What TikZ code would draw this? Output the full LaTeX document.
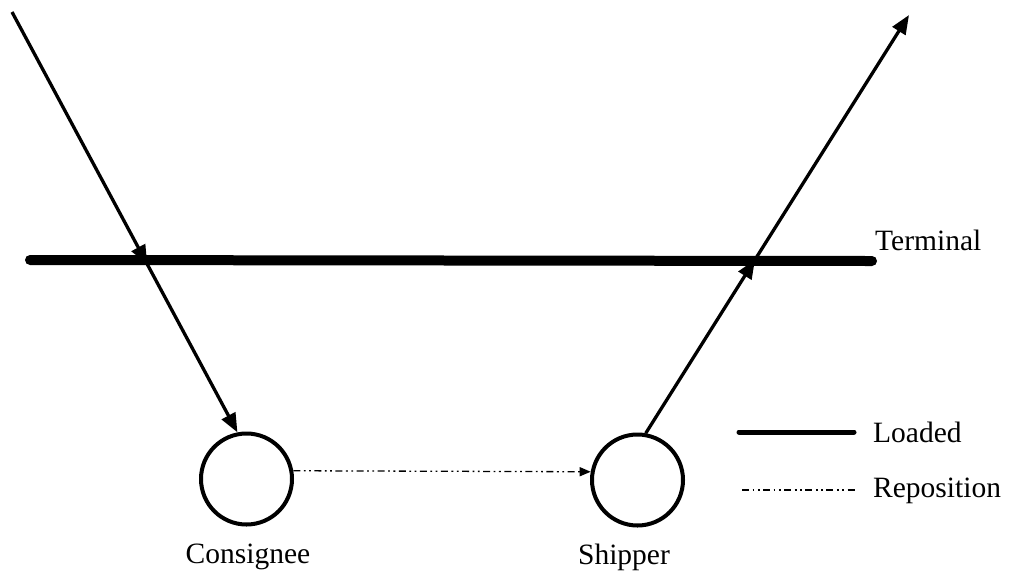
\documentclass[tikz,border=0pt]{standalone}
\usepackage{fontspec}
\setmainfont{Liberation Serif}
\usetikzlibrary{arrows.meta,decorations.markings}
\begin{document}
\begin{tikzpicture}[x=1pt,y=-1pt,
  lbl/.style={font=\fontsize{29.5}{33}\selectfont, inner sep=0pt},
  place/.style={circle, draw, line width=4pt, minimum size=91pt, inner sep=0pt},
  flow/.style={line width=3.3pt},
  bigtip/.style={-{Triangle[length=19pt,width=15pt]}},
  midtip/.style={postaction={decorate}, decoration={markings,
     mark=at position #1 with {\arrow{Triangle[length=19pt,width=15pt]}}}},
  terminal/.style={line width=10pt, line cap=round},
  loaded/.style={line width=5pt, line cap=round},
  repos/.style={line width=1.3pt, dash pattern=on 7pt off 3.5pt on 1.8pt off 3.5pt on 1.8pt off 3.5pt}
]
\useasboundingbox (0,0) rectangle (1016,574);
% nodes
\node[place] (cons) at (246.5,479) {};
\node[place] (ship) at (637.5,480) {};
\coordinate (a0) at (12,12);
\coordinate (b1) at (909,15);
\coordinate (tl) at (30,260);
\coordinate (tr) at (872,261);
% terminal line
\draw[terminal] (tl) -- (tr);
\node[lbl, anchor=west] (tlab) at (875,240) {Terminal};
% loaded flows
\draw[flow, bigtip, midtip=0.6] (a0) -- (cons.101);
\draw[flow, bigtip, midtip=0.415] (ship.80) -- (b1);
% reposition flow
\draw[repos, -{Triangle[length=11pt,width=9pt]}] (cons.10) -- (ship.170);
% labels
\node[lbl] (clab) at (248,557) {Consignee};
\node[lbl] (slab) at (624,557) {Shipper};
% legend
\coordinate (l1a) at (739,432);
\coordinate (l1b) at (854,432);
\draw[loaded] (l1a) -- (l1b);
\node[lbl, anchor=west] (llab) at (873,432) {Loaded};
\coordinate (l2a) at (742,490);
\coordinate (l2b) at (855,490);
\draw[repos] (l2a) -- (l2b);
\node[lbl, anchor=west] (rlab) at (873,491) {Reposition};
\end{tikzpicture}
\end{document}
